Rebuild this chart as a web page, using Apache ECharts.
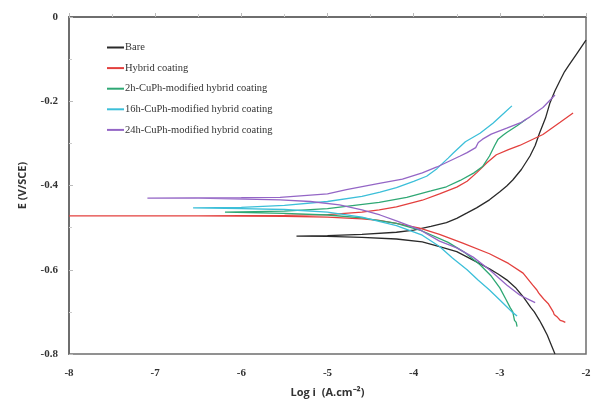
<!DOCTYPE html>
<html>
<head>
<meta charset="utf-8">
<script src="https://cdn.jsdelivr.net/npm/echarts@6/dist/echarts.min.js"></script>
<style>
html,body{margin:0;padding:0;background:#fff;}
#c{width:595px;height:401px;}
</style>
</head>
<body>
<div id="c"></div>
<script>
// Series names
var seriesNames = ['Bare', 'Hybrid coating', '2h-CuPh-modified hybrid coating', '16h-CuPh-modified hybrid coating', '24h-CuPh-modified hybrid coating'];

// Each curve: [log i, E] from cathodic end -> Ecorr -> anodic end
var bareLogI = [-2.36,-2.41,-2.45,-2.50,-2.54,-2.60,-2.64,-2.73,-2.82,-2.92,-3.02,-3.12,-3.22,-3.31,-3.5,-3.7,-3.9,-4.2,-4.6,-5.0,-5.36,-5.0,-4.6,-4.2,-4.0,-3.8,-3.62,-3.5,-3.38,-3.27,-3.12,-3.0,-2.92,-2.85,-2.75,-2.65,-2.59,-2.54,-2.47,-2.42,-2.36,-2.3,-2.25,-2.2,-2.1,-2.0];
var bareE    = [-0.80,-0.775,-0.755,-0.735,-0.72,-0.70,-0.69,-0.664,-0.642,-0.624,-0.61,-0.598,-0.587,-0.577,-0.557,-0.545,-0.534,-0.527,-0.523,-0.521,-0.520,-0.519,-0.516,-0.511,-0.506,-0.497,-0.488,-0.478,-0.465,-0.453,-0.434,-0.415,-0.401,-0.387,-0.362,-0.33,-0.305,-0.276,-0.24,-0.205,-0.175,-0.15,-0.13,-0.115,-0.085,-0.055];

var hybridLogI = [-2.24,-2.27,-2.30,-2.33,-2.35,-2.37,-2.38,-2.40,-2.41,-2.43,-2.44,-2.46,-2.48,-2.50,-2.53,-2.55,-2.57,-2.62,-2.73,-2.9,-3.12,-3.43,-3.7,-3.93,-4.2,-4.4,-4.6,-5.0,-5.5,-6.5,-8.0,-6.5,-5.5,-5.0,-4.6,-4.4,-4.2,-3.9,-3.7,-3.5,-3.38,-3.27,-3.15,-3.04,-2.9,-2.77,-2.5,-2.3,-2.15];
var hybridE    = [-0.725,-0.722,-0.720,-0.713,-0.712,-0.706,-0.700,-0.697,-0.690,-0.688,-0.680,-0.676,-0.672,-0.668,-0.660,-0.655,-0.648,-0.636,-0.608,-0.585,-0.562,-0.537,-0.516,-0.501,-0.49,-0.483,-0.479,-0.475,-0.473,-0.472,-0.472,-0.472,-0.471,-0.469,-0.463,-0.458,-0.451,-0.435,-0.42,-0.404,-0.39,-0.37,-0.346,-0.327,-0.315,-0.305,-0.279,-0.25,-0.228];

var h2LogI = [-2.80,-2.81,-2.83,-2.85,-2.88,-2.93,-3.0,-3.1,-3.23,-3.4,-3.6,-3.9,-4.2,-4.6,-5.0,-5.5,-6.19,-5.5,-5.0,-4.4,-4.08,-3.8,-3.62,-3.46,-3.3,-3.2,-3.12,-3.06,-3.02,-2.96,-2.92,-2.8,-2.69];
var h2E    = [-0.735,-0.725,-0.72,-0.70,-0.69,-0.67,-0.643,-0.615,-0.588,-0.56,-0.535,-0.508,-0.49,-0.477,-0.470,-0.466,-0.463,-0.461,-0.455,-0.440,-0.428,-0.413,-0.403,-0.388,-0.37,-0.355,-0.33,-0.305,-0.29,-0.28,-0.274,-0.258,-0.242];

var h16LogI = [-2.80,-2.86,-2.92,-3.0,-3.12,-3.25,-3.38,-3.55,-3.70,-3.9,-4.2,-4.39,-4.6,-5.0,-5.5,-6.0,-6.56,-6.0,-5.5,-5.0,-4.6,-4.39,-4.2,-4.0,-3.85,-3.73,-3.6,-3.54,-3.4,-3.23,-3.08,-2.95,-2.86];
var h16E    = [-0.71,-0.70,-0.688,-0.672,-0.648,-0.625,-0.60,-0.572,-0.545,-0.518,-0.495,-0.486,-0.475,-0.463,-0.457,-0.455,-0.453,-0.452,-0.447,-0.438,-0.426,-0.416,-0.405,-0.39,-0.378,-0.36,-0.335,-0.323,-0.296,-0.276,-0.252,-0.228,-0.211];

var h24LogI = [-2.59,-2.65,-2.77,-2.92,-3.12,-3.31,-3.5,-3.7,-3.93,-4.2,-4.39,-4.6,-4.86,-5.2,-5.55,-6.5,-7.09,-6.0,-5.55,-5.0,-4.78,-4.4,-4.13,-3.9,-3.73,-3.46,-3.38,-3.33,-3.31,-3.28,-3.25,-3.2,-3.1,-2.92,-2.75,-2.65,-2.5,-2.36];
var h24E    = [-0.678,-0.672,-0.66,-0.636,-0.60,-0.57,-0.548,-0.532,-0.505,-0.484,-0.47,-0.458,-0.446,-0.438,-0.434,-0.430,-0.430,-0.429,-0.428,-0.42,-0.41,-0.395,-0.385,-0.37,-0.356,-0.33,-0.322,-0.316,-0.312,-0.31,-0.298,-0.29,-0.278,-0.264,-0.25,-0.237,-0.215,-0.185];

var xTicks = [-8,-7,-6,-5,-4,-3,-2];
var yTicks = [0,-0.2,-0.4,-0.6,-0.8];

var colors = ['#2a2a2a', '#e3403e', '#2fa874', '#3cbfd9', '#9466c6'];

function zip(a, b) { return a.map(function (v, i) { return [v, b[i]]; }); }
var allX = [bareLogI, hybridLogI, h2LogI, h16LogI, h24LogI];
var allY = [bareE, hybridE, h2E, h16E, h24E];

var chart = echarts.init(document.getElementById('c'), null, {renderer: 'canvas'});
var axisColor = '#6e6e6e';
chart.setOption({
  animation: false,
  color: colors,
  grid: {left: 69, right: 9, top: 17, bottom: 47, show: true, borderColor: axisColor, borderWidth: 1.5,
    backgroundColor: '#fff', containLabel: false, outerBoundsMode: 'none'},
  legend: {
    orient: 'vertical', left: 102, top: 37,
    itemWidth: 17, itemHeight: 2, itemGap: 9.6,
    icon: 'rect',
    data: seriesNames,
    textStyle: {fontFamily: 'Liberation Serif', fontSize: 10.5, color: '#333', padding: [0,0,0,-4]}
  },
  xAxis: {
    type: 'value', min: xTicks[0], max: xTicks[xTicks.length - 1], interval: 1,
    name: 'Log i  (A.cm\u207B\u00B2)', nameLocation: 'middle', nameGap: 33,
    nameTextStyle: {fontFamily: 'Open Sans', fontWeight: 'bold', fontSize: 11, color: '#333'},
    axisLine: {lineStyle: {color: axisColor, width: 2}},
    axisTick: {inside: true, length: 4, lineStyle: {color: '#bbb'}},
    minorTick: {show: true, splitNumber: 2, length: 3, lineStyle: {color: '#ccc'}},
    splitLine: {show: false},
    axisLabel: {fontFamily: 'Liberation Serif', fontWeight: 'bold', fontSize: 11, color: '#333', margin: 14}
  },
  yAxis: {
    type: 'value', min: -0.8, max: 0, interval: 0.2,
    name: 'E (V/SCE)', nameLocation: 'middle', nameGap: 41,
    nameTextStyle: {fontFamily: 'Open Sans', fontWeight: 'bold', fontSize: 11, color: '#333'},
    axisLine: {lineStyle: {color: axisColor, width: 2}},
    axisTick: {inside: true, length: 4, lineStyle: {color: '#bbb'}},
    minorTick: {show: true, splitNumber: 2, length: 3, lineStyle: {color: '#ccc'}},
    splitLine: {show: false},
    axisLabel: {fontFamily: 'Liberation Serif', fontWeight: 'bold', fontSize: 11, color: '#333', margin: 11,
      formatter: function (v) { return v === 0 ? '0' : String(Math.round(v * 10) / 10); }}
  },
  series: seriesNames.map(function (n, i) {
    return {
      name: n, type: 'line', data: zip(allX[i], allY[i]),
      showSymbol: false, symbol: 'none', smooth: false,
      lineStyle: {width: 1.3, color: colors[i]},
      itemStyle: {color: colors[i]}
    };
  })
});
</script>
</body>
</html>
